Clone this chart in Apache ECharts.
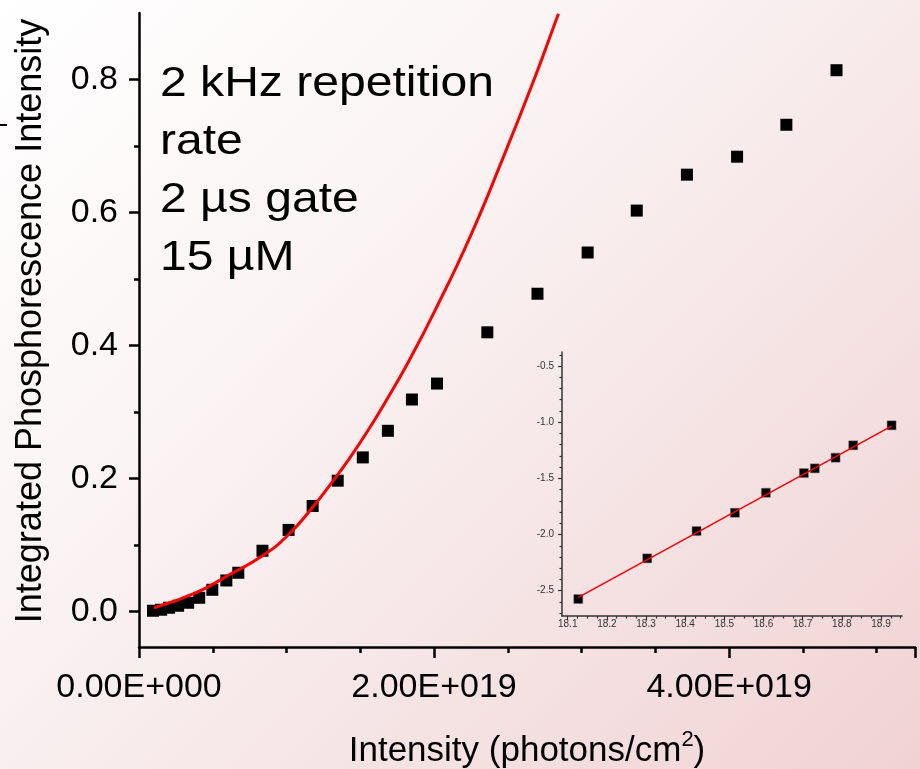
<!DOCTYPE html>
<html><head><meta charset="utf-8">
<script src="https://cdn.jsdelivr.net/npm/echarts@6/dist/echarts.min.js"></script>
<style>
html,body{margin:0;padding:0;}
#c{width:920px;height:769px;background:linear-gradient(135deg,#ffffff 0%,#fbf4f4 35%,#f5e2e3 70%,#f1d2d4 100%);}
</style>
</head><body><div id="c"></div>
<script>
// Main scatter: intensity (photons/cm^2) vs integrated phosphorescence intensity
const mainX = [0.095e19,0.150e19,0.204e19,0.265e19,0.333e19,0.408e19,0.497e19,0.592e19,0.673e19,0.837e19,1.014e19,1.177e19,1.347e19,1.517e19,1.687e19,1.850e19,2.020e19,2.361e19,2.701e19,3.041e19,3.374e19,3.714e19,4.054e19,4.388e19,4.728e19];
const mainY = [0.0015,0.003,0.006,0.009,0.0135,0.021,0.033,0.047,0.0586,0.0917,0.123,0.159,0.197,0.232,0.272,0.319,0.343,0.420,0.478,0.540,0.603,0.657,0.684,0.732,0.814];
// Red fit curve
const fitX = [0.102e19,0.388e19,0.612e19,0.837e19,1.014e19,1.177e19,1.313e19,1.428e19,1.551e19,1.680e19,1.837e19,2.007e19,2.245e19,2.469e19,2.673e19,2.802e19,2.843e19];
const fitY = [0.0060,0.0286,0.0556,0.0840,0.116,0.157,0.196,0.231,0.272,0.319,0.380,0.453,0.564,0.683,0.797,0.874,0.899];
// Inset: log-log plot
const insetX = [18.127,18.303,18.429,18.527,18.606,18.703,18.731,18.784,18.829,18.927];
const insetY = [-2.574,-2.212,-1.969,-1.806,-1.628,-1.453,-1.411,-1.316,-1.206,-1.028];
const insetFitX = [18.127,18.927];
const insetFitY = [-2.559,-1.035];
// Tick labels / positions
const mainXTicks = [0,2e19,4e19];
const mainYTicks = [0.0,0.2,0.4,0.6,0.8];
const mainYMinor = [0.1,0.3,0.5,0.7];
const insetXTicks = [18.1,18.2,18.3,18.4,18.5,18.6,18.7,18.8,18.9];
const insetXMinor = [18.125,18.15,18.175,18.225,18.25,18.275,18.325,18.35,18.375,18.425,18.45,18.475,18.525,18.55,18.575,18.625,18.65,18.675,18.725,18.75,18.775,18.825,18.85,18.875,18.925,18.95];
const insetYTicks = [-2.5,-2.0,-1.5,-1.0,-0.5];
const insetYMinor = [-2.7,-2.6,-2.4,-2.3,-2.2,-2.1,-1.9,-1.8,-1.7,-1.6,-1.4,-1.3,-1.2,-1.1,-0.9,-0.8,-0.7,-0.6,-0.4];
const annotation = ['2 kHz repetition','rate','2 µs gate','15 µM'];
const yTitle = 'Integrated Phosphorescence Intensity';
const xTitleMain = 'Intensity (photons/cm';
const xTitleSup = '2';
const xTitleEnd = ')';

const FONT = '"Liberation Sans", Arial, sans-serif';
function sci(v){
  if (v === 0) return '0.00E+000';
  const e = Math.floor(Math.log10(v) + 1e-9);
  const m = v / Math.pow(10, e);
  return m.toFixed(2) + 'E+' + String(e).padStart(3, '0');
}
const zip = (a,b) => a.map((v,i)=>[v,b[i]]);
const mctx = document.createElement('canvas').getContext('2d');
function tw(t, f){ mctx.font = f; return mctx.measureText(t).width; }
const fMain = '35px ' + FONT, fSup = '22px ' + FONT;
const w1 = tw(xTitleMain, fMain), w2 = tw(xTitleSup, fSup), w3 = tw(xTitleEnd, fMain);
const xs = 527 - (w1 + w2 + w3) / 2;

const chart = echarts.init(document.getElementById('c'), null, {renderer:'canvas'});
const blk = '#000', ig = '#333';
chart.setOption({
  backgroundColor: 'transparent',
  animation: false,
  grid: [
    {left:139, top:13, width:776, height:634, outerBoundsMode:'none', containLabel:false},
    {left:562, top:352, width:340, height:264, outerBoundsMode:'none', containLabel:false}
  ],
  xAxis: [
    {type:'value', gridIndex:0, position:'bottom', min:0, max:5.26e19, interval:2e19,
     axisLine:{onZero:false, lineStyle:{color:blk,width:2.5}},
     axisTick:{length:11, lineStyle:{color:blk,width:2.5}},
     minorTick:{show:true, splitNumber:4, length:6, lineStyle:{color:blk,width:2.5}},
     axisLabel:{customValues:mainXTicks, color:blk, fontSize:34, fontFamily:FONT, margin:24, formatter:sci},
     splitLine:{show:false}, minorSplitLine:{show:false}},
    {type:'value', gridIndex:1, position:'bottom', min:18.0854, max:18.9536,
     axisLine:{onZero:false, lineStyle:{color:ig,width:1.5}},
     axisTick:{customValues:insetXTicks, length:4, lineStyle:{color:ig,width:1.2}},
     axisLabel:{customValues:insetXTicks, color:ig, fontSize:10, fontFamily:FONT, margin:3, formatter:v=>v.toFixed(1)},
     splitLine:{show:false}},
    {type:'value', gridIndex:1, position:'bottom', offset:0, min:18.0854, max:18.9536,
     axisLine:{show:false, onZero:false},
     axisTick:{customValues:insetXMinor, length:2.5, lineStyle:{color:ig,width:1.2}},
     axisLabel:{show:false}, splitLine:{show:false}}
  ],
  yAxis: [
    {type:'value', gridIndex:0, position:'left', min:-0.053, max:0.9,
     axisLine:{show:true, onZero:false, lineStyle:{color:blk,width:2.5}},
     axisTick:{show:true, customValues:mainYTicks, length:10, lineStyle:{color:blk,width:2.5}},
     axisLabel:{customValues:mainYTicks, color:blk, fontSize:34, fontFamily:FONT, margin:21, formatter:v=>v.toFixed(1)},
     splitLine:{show:false}},
    {type:'value', gridIndex:0, position:'left', offset:0, min:-0.053, max:0.9,
     axisLine:{show:false, onZero:false},
     axisTick:{show:true, customValues:mainYMinor, length:5, lineStyle:{color:blk,width:2.5}},
     axisLabel:{show:false}, splitLine:{show:false}},
    {type:'value', gridIndex:1, position:'left', min:-2.725, max:-0.3754,
     axisLine:{show:true, onZero:false, lineStyle:{color:ig,width:1.5}},
     axisTick:{show:true, customValues:insetYTicks, length:4, lineStyle:{color:ig,width:1.2}},
     axisLabel:{customValues:insetYTicks, color:ig, fontSize:10, fontFamily:FONT, margin:8, formatter:v=>v.toFixed(1)},
     splitLine:{show:false}},
    {type:'value', gridIndex:1, position:'left', offset:0, min:-2.725, max:-0.3754,
     axisLine:{show:false, onZero:false},
     axisTick:{show:true, customValues:insetYMinor, length:2.5, lineStyle:{color:ig,width:1.2}},
     axisLabel:{show:false}, splitLine:{show:false}}
  ],
  series: [
    {type:'scatter', xAxisIndex:0, yAxisIndex:0, symbol:'rect', symbolSize:12,
     itemStyle:{color:'#000', opacity:1}, data: zip(mainX, mainY), z:2},
    {type:'line', xAxisIndex:0, yAxisIndex:0, smooth:true, symbol:'none',
     lineStyle:{color:'#ff0000', width:3}, data: zip(fitX, fitY), z:3},
    {type:'scatter', xAxisIndex:1, yAxisIndex:2, symbol:'rect', symbolSize:9,
     itemStyle:{color:'#000', opacity:1, borderColor:'#777', borderWidth:0.5}, data: zip(insetX, insetY), z:2},
    {type:'line', xAxisIndex:1, yAxisIndex:2, symbol:'none',
     lineStyle:{color:'#ff0000', width:1.5}, data: zip(insetFitX, insetFitY), z:3}
  ],
  graphic: [
    {type:'text', x:160, y:55, scaleX:1.118, style:{text:annotation.join('\n'), font:'43px '+FONT, lineHeight:58, fill:'#000', align:'left', verticalAlign:'top'}},
    {type:'text', x:31.5, y:321, rotation:Math.PI/2,
     style:{text:yTitle, font:'36px '+FONT, fill:'#000', align:'center', verticalAlign:'middle'}},
    {type:'text', x:xs, y:751, style:{text:xTitleMain, font:fMain, fill:'#000', align:'left', verticalAlign:'middle'}},
    {type:'text', x:xs + w1, y:740, style:{text:xTitleSup, font:fSup, fill:'#000', align:'left', verticalAlign:'middle'}},
    {type:'text', x:xs + w1 + w2, y:751, style:{text:xTitleEnd, font:fMain, fill:'#000', align:'left', verticalAlign:'middle'}},
    {type:'rect', shape:{x:0, y:124, width:7, height:2}, style:{fill:'#000'}}
  ]
});
</script></body></html>
